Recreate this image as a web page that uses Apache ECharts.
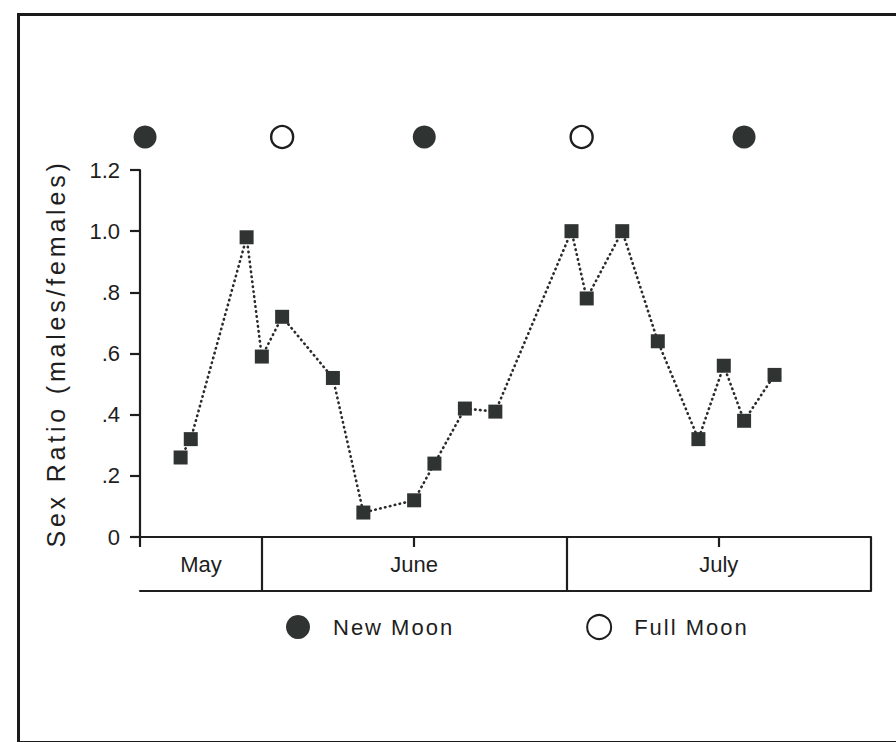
<!DOCTYPE html>
<html>
<head>
<meta charset="utf-8">
<script src="https://cdn.jsdelivr.net/npm/echarts@6/dist/echarts.min.js"></script>
<style>
  html, body { margin:0; padding:0; background:#fff; }
  #frame { position:absolute; left:17px; top:13px; width:900px; height:725px;
           border-left:3px solid #1a1a1a; border-top:3px solid #1a1a1a; border-bottom:3px solid #1a1a1a; }
  #chart { position:absolute; left:0; top:0; width:896px; height:742px; }
</style>
</head>
<body>
<div id="frame"></div>
<div id="chart"></div>
<script>
// x = days counted from May 20 (axis spans May 20 .. July 31)
const sampleDays   = [4, 5, 10.5, 12, 14, 19, 22, 27, 29, 32, 35, 42.5, 44, 47.5, 51, 55, 57.5, 59.5, 62.5];
const sexRatio     = [0.26, 0.32, 0.98, 0.59, 0.72, 0.52, 0.08, 0.12, 0.24, 0.42, 0.41, 1.00, 0.78, 1.00, 0.64, 0.32, 0.56, 0.38, 0.53];
const newMoonDays  = [0.5, 28, 59.5];
const fullMoonDays = [14, 43.5];
const months       = ['May', 'June', 'July'];
const monthStarts  = [0, 12, 42];
const monthEnds    = [12, 42, 72];
const midMonthTicks = [0, 27, 57];
const yTickLabels  = ['0', '.2', '.4', '.6', '.8', '1.0', '1.2'];
const yAxisTitle   = 'Sex Ratio (males/females)';

const FONT = '"Liberation Sans", Arial, Helvetica, sans-serif';
const INK = '#1e1e1e';
const MARK = '#2f3331';
const X_MIN = 0, X_MAX = 72;

const chart = echarts.init(document.getElementById('chart'), null, {renderer:'svg'});

const option = {
  backgroundColor: 'transparent',
  animation: false,
  textStyle: { fontFamily: FONT, color: INK },
  legend: {
    data: ['New Moon', 'Full Moon'],
    left: 281, top: 609,
    itemWidth: 24, itemHeight: 24,
    itemGap: 148,
    textStyle: { fontFamily: FONT, fontSize: 22, color: INK, padding: [0,0,0,18] }
  },
  grid: [
    { left: 140, top: 170, width: 731, height: 367 },   // main plot
    { left: 140, top: 119, width: 731, height: 36 },    // moon row
    { left: 140, top: 537, width: 731, height: 54 }     // month boxes
  ],
  xAxis: [
    { gridIndex: 0, type: 'value', min: X_MIN, max: X_MAX,
      axisLine: { show: true, lineStyle: { color: INK, width: 2.2 } },
      axisTick: { show: true, inside: false, length: 10, customValues: midMonthTicks,
                  lineStyle: { color: INK, width: 2.2 } },
      axisLabel: { show: false }, splitLine: { show: false } },
    { gridIndex: 1, type: 'value', min: X_MIN, max: X_MAX, show: false },
    { gridIndex: 2, type: 'value', min: X_MIN, max: X_MAX, position: 'bottom',
      axisLine: { show: true, lineStyle: { color: INK, width: 2.2 } },
      axisTick: { show: false }, axisLabel: { show: false }, splitLine: { show: false } }
  ],
  yAxis: [
    { gridIndex: 0, type: 'value', min: 0, max: 1.2, interval: 0.2,
      name: yAxisTitle, nameLocation: 'middle', nameGap: 72,
      nameTextStyle: { fontFamily: FONT, fontSize: 25, color: INK },
      axisLine: { show: true, lineStyle: { color: INK, width: 2.2 } },
      axisTick: { show: true, length: 10, lineStyle: { color: INK, width: 2.2 } },
      axisLabel: { fontFamily: FONT, fontSize: 22, color: INK, margin: 20,
                   formatter: v => yTickLabels[Math.round(v / 0.2)] },
      splitLine: { show: false } },
    { gridIndex: 1, type: 'value', min: 0, max: 1, show: false },
    { gridIndex: 2, type: 'value', min: 0, max: 1, show: false }
  ],
  series: [
    { name: 'Sex Ratio', type: 'line', xAxisIndex: 0, yAxisIndex: 0,
      data: sampleDays.map((d, i) => [d, sexRatio[i]]),
      symbol: 'rect', symbolSize: 14,
      itemStyle: { color: MARK, opacity: 1 },
      lineStyle: { color: '#2a2a2a', width: 2.6, type: [0.5, 4.5], cap: 'round' },
      z: 3 },
    { name: 'New Moon', type: 'scatter', xAxisIndex: 1, yAxisIndex: 1,
      data: newMoonDays.map(d => [d, 0.5]),
      symbol: 'circle', symbolSize: 23,
      itemStyle: { color: MARK, opacity: 1 } },
    { name: 'Full Moon', type: 'scatter', xAxisIndex: 1, yAxisIndex: 1,
      data: fullMoonDays.map(d => [d, 0.5]),
      symbol: 'circle', symbolSize: 22,
      itemStyle: { color: '#ffffff', borderColor: INK, borderWidth: 2.4, opacity: 1 } },
    { name: 'Months', type: 'line', xAxisIndex: 2, yAxisIndex: 2,
      data: [], silent: true,
      markLine: {
        silent: true, symbol: 'none',
        lineStyle: { color: INK, width: 2.2, type: 'solid' },
        label: { show: false },
        data: monthStarts.slice(1).concat([monthEnds[monthEnds.length - 1]]).map(x => ({ xAxis: x }))
      },
      markArea: {
        silent: true,
        itemStyle: { color: 'rgba(0,0,0,0)' },
        label: { show: true, position: 'inside', fontFamily: FONT, fontSize: 22, color: INK },
        data: months.map((m, i) => [{ name: m, xAxis: monthStarts[i] }, { xAxis: monthEnds[i] }])
      } }
  ]
};
chart.setOption(option);

// The original typesetting is letter-spaced; emulate it on the SVG text nodes.
function spaceText() {
  const spacing = { 'Sex Ratio (males/females)': '3.8px', 'New Moon': '2px', 'Full Moon': '2px' };
  chart.getDom().querySelectorAll('text').forEach(t => {
    const s = spacing[t.textContent];
    if (s) t.style.letterSpacing = s;
  });
}
chart.on('finished', spaceText);
setTimeout(spaceText, 0);
</script>
</body>
</html>
